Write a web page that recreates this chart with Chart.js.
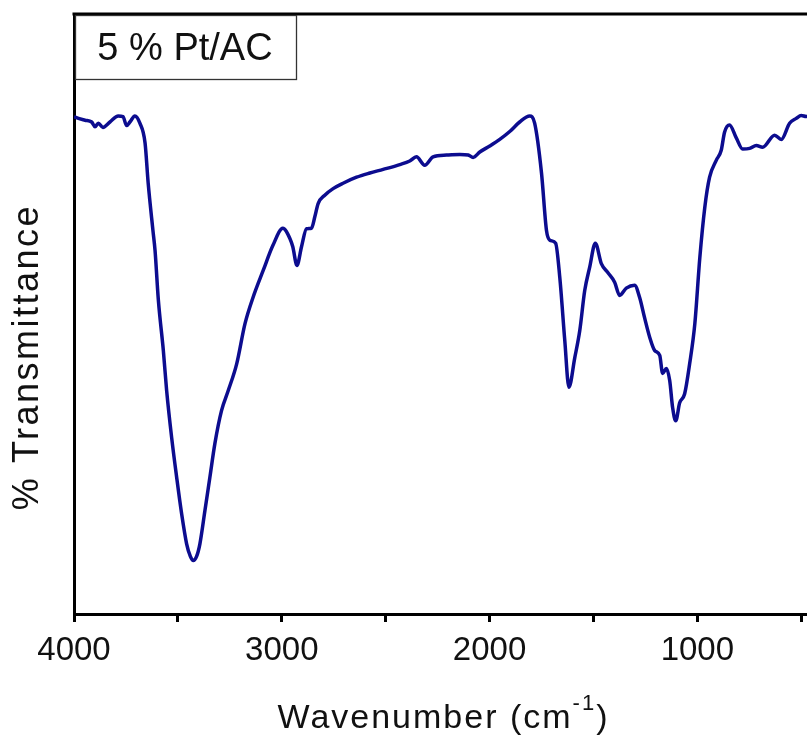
<!DOCTYPE html>
<html>
<head>
<meta charset="utf-8">
<script src="https://cdn.jsdelivr.net/npm/chart.js@4/dist/chart.umd.min.js"></script>
<style>
html,body{margin:0;padding:0;background:#fff;overflow:hidden;width:807px;height:735px}
canvas{display:block}
</style>
</head>
<body>
<canvas id="c" width="840" height="735"></canvas>
<script>
// ---- data ----
const wavenumbers = [4000,3995,3947,3915,3899,3883,3861,3827,3787,3764,3747,3731,3707,3683,3658,3643,3620,3610,3594,3570,3554,3530,3506,3482,3458,3440,3426,3410,3394,3370,3346,3322,3290,3258,3217,3177,3138,3089,3043,2995,2961,2947,2927,2905,2881,2857,2841,2825,2793,2753,2705,2640,2576,2512,2432,2384,2352,2312,2272,2207,2143,2103,2079,2047,1999,1951,1900,1855,1807,1783,1750,1726,1710,1682,1662,1638,1618,1590,1566,1542,1518,1491,1462,1431,1398,1374,1342,1302,1278,1254,1229,1205,1181,1167,1149,1133,1119,1104,1085,1061,1037,1012,988,964,941,909,885,869,845,812,782,748,716,686,628,596,556,524,500,476,440,400];
const transmittance = [82.9,82.8,82.3,82.0,81.2,81.8,81.1,82.0,83.0,82.9,81.4,82.0,83.0,81.8,78.5,71.8,63.9,60.6,52.3,43.9,37.2,29.4,22.8,16.7,11.7,9.6,8.9,9.6,11.7,17.2,22.8,28.4,33.9,37.2,41.7,48.4,52.8,57.3,61.4,64.3,62.6,61.2,58.1,61.2,64.2,64.3,66.2,68.4,69.8,70.9,71.8,72.8,73.5,74.1,74.9,75.5,76.2,74.8,76.2,76.5,76.6,76.5,76.1,77.0,78.0,79.1,80.5,82.0,83.0,81.8,73.5,63.9,62.3,61.8,56.1,45.6,37.8,42.7,47.2,53.9,57.8,61.8,58.4,56.9,55.3,53.1,54.3,54.8,52.8,49.4,46.1,43.9,43.1,40.1,40.9,38.9,34.4,32.2,35.2,36.7,41.7,48.4,59.4,67.8,72.8,75.6,77.3,80.3,81.5,79.3,77.5,77.6,78.1,77.8,79.8,79.1,81.8,82.6,83.1,82.9,83.2,82.8];
const seriesLabel = '5 % Pt/AC';
const xTickValues = [4000,3500,3000,2500,2000,1500,1000,500];
const xTitleParts = ['Wavenumber (cm', '-1', ')'];
const yTitle = '% Transmittance';

const FONT = '"Liberation Sans", Arial, Helvetica, sans-serif';

const decorPlugin = {
  id: 'decor',
  afterDraw(chart) {
    const ctx = chart.ctx;
    const a = chart.chartArea;
    ctx.save();
    // top and right frame lines
    ctx.strokeStyle = '#000';
    ctx.lineWidth = 3;
    ctx.beginPath();
    ctx.moveTo(a.left - 1.5, a.top);
    ctx.lineTo(a.right, a.top);
    ctx.lineTo(a.right, a.bottom);
    ctx.stroke();

    // legend box
    ctx.lineWidth = 1.3;
    ctx.strokeStyle = '#333';
    ctx.fillStyle = '#fff';
    ctx.fillRect(a.left + 1.5, a.top + 1.5, 221, 64);
    ctx.strokeRect(a.left + 1.5, a.top + 1.5, 221, 64);
    ctx.fillStyle = '#111';
    ctx.font = '38px ' + FONT;
    ctx.textAlign = 'center';
    ctx.textBaseline = 'alphabetic';
    ctx.fillText(chart.data.datasets[0].label, a.left + 111, a.top + 46);

    // y title
    ctx.save();
    ctx.translate(28, 357);
    ctx.rotate(-Math.PI / 2);
    ctx.font = '36px ' + FONT;
    try { ctx.letterSpacing = '2.5px'; } catch (e) {}
    ctx.textAlign = 'center';
    ctx.textBaseline = 'middle';
    ctx.fillText(yTitle, 0, 0);
    ctx.restore();

    // x title with superscript
    try { ctx.letterSpacing = '2px'; } catch (e) {}
    ctx.textAlign = 'left';
    ctx.textBaseline = 'alphabetic';
    const big = '34px ' + FONT, small = '22px ' + FONT;
    ctx.font = big; const w1 = ctx.measureText(xTitleParts[0]).width;
    ctx.font = small; const w2 = ctx.measureText(xTitleParts[1]).width;
    ctx.font = big; const w3 = ctx.measureText(xTitleParts[2]).width;
    const total = w1 + w2 + w3;
    let x = 443.5 - total / 2;
    const base = 728;
    ctx.font = big; ctx.fillText(xTitleParts[0], x, base); x += w1;
    ctx.font = small; ctx.fillText(xTitleParts[1], x, base - 18); x += w2;
    ctx.font = big; ctx.fillText(xTitleParts[2], x, base);
    ctx.restore();
  }
};

new Chart(document.getElementById('c'), {
  type: 'line',
  data: {
    labels: wavenumbers,
    datasets: [{
      label: seriesLabel,
      data: wavenumbers.map((w, i) => ({x: w, y: transmittance[i]})),
      borderColor: '#0c0c8f',
      borderWidth: 3.5,
      pointRadius: 0,
      fill: false,
      cubicInterpolationMode: 'monotone'
    }]
  },
  options: {
    responsive: false,
    animation: false,
    devicePixelRatio: 1,
    layout: { padding: { top: 14, right: 18, left: 0, bottom: 0 } },
    plugins: { legend: { display: false }, tooltip: { enabled: false }, title: { display: false } },
    scales: {
      x: {
        type: 'linear',
        reverse: true,
        min: 400,
        max: 4000,
        afterBuildTicks(scale) { scale.ticks = xTickValues.map(v => ({ value: v })); },
        afterFit(scale) { scale.height = 121; },
        ticks: {
          autoSkip: false,
          maxRotation: 0,
          padding: 9,
          color: '#111',
          font: { family: FONT, size: 33 },
          callback: (v) => (v % 1000 === 0 ? String(v) : '')
        },
        grid: { display: true, drawOnChartArea: false, drawTicks: true, tickLength: 8, tickWidth: 3, tickColor: '#000' },
        border: { display: true, width: 3, color: '#000' }
      },
      y: {
        min: 0,
        max: 100,
        afterFit(scale) { scale.width = 74; },
        ticks: { display: false },
        grid: { display: false, drawTicks: false },
        border: { display: true, width: 3, color: '#000' }
      }
    }
  },
  plugins: [decorPlugin]
});
</script>
</body>
</html>
